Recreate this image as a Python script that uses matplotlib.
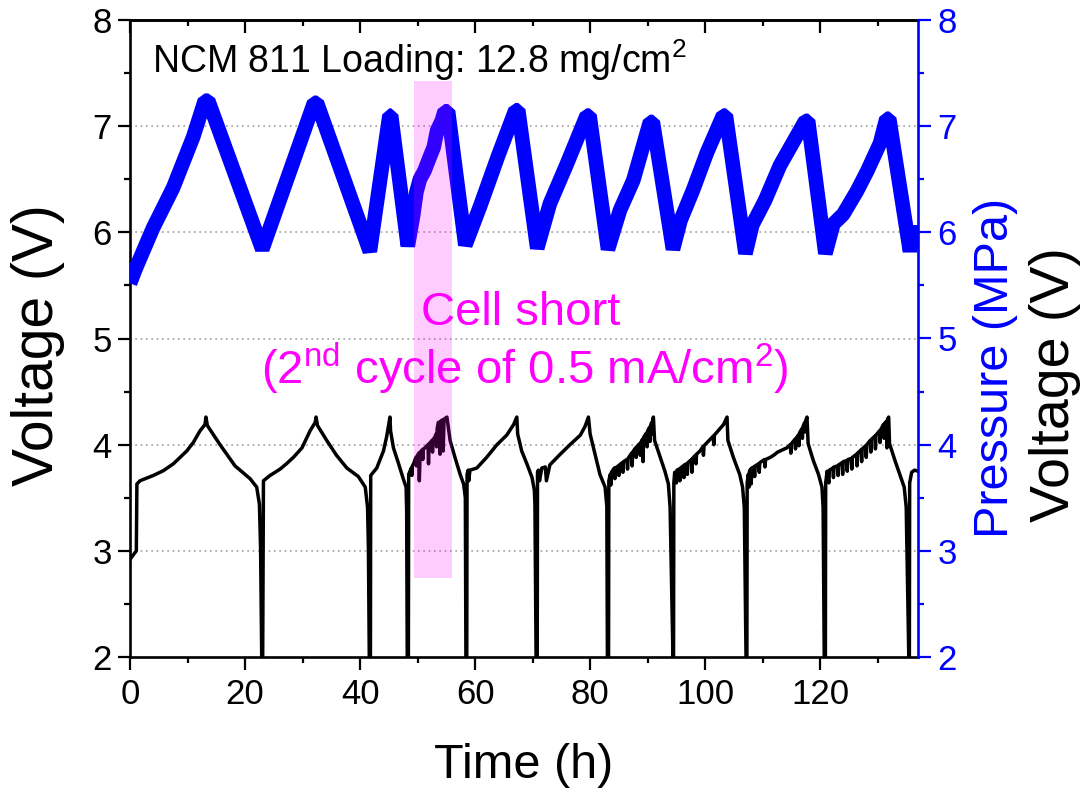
import numpy as np
import matplotlib
matplotlib.use("Agg")
import matplotlib.pyplot as plt
from matplotlib.patches import Rectangle
from matplotlib.ticker import MultipleLocator

plt.rcParams['font.family'] = ['Liberation Sans', 'DejaVu Sans']
plt.rcParams['mathtext.fontset'] = 'custom'
plt.rcParams['mathtext.rm'] = 'Liberation Sans'
plt.rcParams['mathtext.it'] = 'Liberation Sans:italic'
plt.rcParams['mathtext.bf'] = 'Liberation Sans:bold'
plt.rcParams['mathtext.default'] = 'regular'

# ---- stack pressure (MPa) vs time (h) ----
pressure_time = [0, 1.0, 4.0, 7.5, 11.0, 13.0, 13.6, 23.0, 32.0, 32.5, 41.7, 45.1, 45.4,
                 48.3, 49.2, 49.8, 50.4, 51.2, 52.2, 52.8, 53.4, 54.2, 54.7, 55.3,
                 58.3, 60.9, 64.0, 67.0, 67.5, 70.8, 73.0, 76.0, 79.4, 79.9,
                 83.1, 85.2, 87.5, 90.4, 90.9, 94.4, 95.7, 97.9, 100.3, 103.1, 103.6,
                 107.0, 108.2, 110.4, 113.0, 117.4, 117.9, 120.9, 122.3, 124.0, 126.4,
                 128.2, 130.4, 131.5, 132.0, 135.6, 136.1, 137.0]
pressure_mpa = [5.52, 5.66, 6.04, 6.42, 6.90, 7.24, 7.24, 5.84, 7.22, 7.22, 5.82, 7.10, 7.10,
                5.87, 6.15, 6.38, 6.50, 6.58, 6.72, 6.80, 6.96, 7.05, 7.14, 7.14,
                5.88, 6.25, 6.72, 7.15, 7.15, 5.85, 6.27, 6.65, 7.10, 7.10,
                5.84, 6.21, 6.49, 7.04, 7.04, 5.84, 6.11, 6.40, 6.75, 7.10, 7.10,
                5.80, 6.07, 6.30, 6.63, 7.05, 7.05, 5.80, 6.08, 6.17, 6.39,
                6.58, 6.84, 7.07, 7.07, 5.82, 6.00, 6.00]

# ---- cell voltage (time h, voltage V), one list per charge/discharge cycle ----
cycle1 = [(0, 2.92), (1.1, 3.0), (1.2, 3.63), (1.74, 3.66), (4.06, 3.71), (5.8, 3.755),
          (7.54, 3.82), (8.7, 3.88), (9.86, 3.94), (11.0, 4.02), (12.17, 4.13),
          (13.04, 4.19), (13.2, 4.26), (13.45, 4.18), (15.65, 4.0), (18.26, 3.80),
          (20.87, 3.68), (22.03, 3.60), (22.5, 3.44), (22.7, 3.03), (22.9, 2.0)]
cycle2 = [(23.07, 2.0), (23.2, 3.66), (24.35, 3.71), (26.1, 3.77), (27.2, 3.82),
          (28.4, 3.88), (29.9, 3.97), (31.3, 4.13), (32.2, 4.21), (32.35, 4.26),
          (32.6, 4.18), (34.2, 4.04), (35.9, 3.90), (37.7, 3.78), (39.7, 3.70),
          (40.9, 3.60), (41.3, 3.41), (41.45, 3.03), (41.6, 2.0)]
cycle3 = [(41.8, 2.0), (41.85, 3.71), (42.9, 3.78), (44.06, 3.94), (44.6, 4.07),
          (45.2, 4.26), (45.3, 4.13), (45.8, 3.97), (46.7, 3.82), (47.5, 3.68),
          (48.0, 3.60), (48.1, 3.38), (48.2, 2.0)]
cycle4 = [(48.4, 2.0), (48.45, 3.72), (48.9, 3.78), (49.0, 3.71), (49.1, 3.80), (49.3, 3.82),
          (49.7, 3.88), (49.8, 3.80), (49.9, 3.89), (50.2, 3.92), (50.3, 3.66), (50.45, 3.93),
          (50.8, 3.95), (50.9, 3.86), (51.0, 3.96), (51.3, 3.97), (51.8, 4.00), (51.9, 3.82),
          (52.0, 4.01), (52.2, 4.02), (52.5, 4.04), (52.6, 3.93), (52.7, 4.05), (53.0, 4.07),
          (53.2, 4.10), (53.3, 3.98), (53.4, 4.15), (53.6, 4.21), (53.8, 4.21), (53.9, 3.91),
          (54.0, 4.22), (54.2, 4.23), (54.35, 4.23), (54.45, 3.94), (54.6, 4.24), (55.1, 4.26),
          (55.65, 4.04), (56.5, 3.88), (57.4, 3.72), (58.0, 3.63), (58.3, 3.50), (58.4, 2.0)]
cycle5 = [(58.55, 2.0), (58.6, 3.72), (58.8, 3.76), (58.9, 3.66), (59.1, 3.76), (60.3, 3.78),
          (62.0, 3.88), (63.8, 4.0), (65.5, 4.09), (66.7, 4.19), (67.25, 4.26), (67.4, 4.10),
          (68.1, 3.94), (69.0, 3.82), (69.9, 3.69), (70.3, 3.57), (70.4, 3.44), (70.6, 2.0)]
cycle6 = [(70.8, 2.0), (70.85, 3.74), (71.0, 3.76), (71.2, 3.66), (71.6, 3.78), (72.2, 3.79),
          (72.4, 3.66), (73.0, 3.81), (74.8, 3.91), (76.5, 4.0), (78.3, 4.09), (79.1, 4.17),
          (79.7, 4.26), (80.0, 4.10), (80.8, 3.92), (81.7, 3.72), (82.6, 3.60), (82.9, 3.42),
          (83.0, 2.0)]
cycle7 = [(83.2, 2.0), (83.25, 3.66), (83.5, 3.72), (83.6, 3.62), (83.7, 3.74), (84.2, 3.78),
          (84.3, 3.68), (84.4, 3.78), (84.9, 3.80), (85.0, 3.71), (85.1, 3.81), (85.6, 3.83),
          (85.7, 3.74), (85.8, 3.84), (86.4, 3.86), (86.5, 3.77), (86.6, 3.87), (87.2, 3.92),
          (87.3, 3.80), (87.4, 3.93), (87.9, 3.97), (88.0, 3.88), (88.1, 3.98), (88.6, 4.01),
          (88.7, 3.90), (88.8, 4.02), (89.1, 4.05), (89.2, 3.84), (89.3, 4.07), (89.8, 4.11),
          (89.9, 3.98), (90.0, 4.13), (90.3, 4.16), (90.4, 4.03), (90.5, 4.18), (90.7, 4.21),
          (90.8, 4.10), (90.9, 4.24), (91.0, 4.26), (91.2, 4.04), (92.2, 3.88), (93.0, 3.75),
          (93.6, 3.63), (93.9, 3.41), (94.4, 2.0)]
cycle8 = [(94.5, 2.0), (94.55, 3.64), (94.7, 3.74), (95.0, 3.64), (95.1, 3.76), (95.5, 3.77),
          (95.6, 3.66), (95.7, 3.78), (96.2, 3.80), (96.3, 3.69), (96.4, 3.81), (96.8, 3.82),
          (96.9, 3.72), (97.0, 3.83), (97.6, 3.86), (97.7, 3.74), (97.8, 3.87), (98.3, 3.90),
          (98.4, 3.82), (98.5, 3.91), (99.1, 3.94), (99.6, 3.98), (99.7, 3.90), (99.8, 3.99),
          (100.5, 4.03), (101.4, 4.08), (101.5, 4.00), (101.6, 4.09), (102.4, 4.14),
          (103.2, 4.19), (103.8, 4.26), (103.95, 4.04), (104.9, 3.88), (106.0, 3.72),
          (106.5, 3.60), (106.8, 3.41), (107.1, 2.0)]
cycle9 = [(107.25, 2.0), (107.3, 3.64), (107.5, 3.72), (107.6, 3.60), (107.7, 3.75),
          (107.9, 3.77), (108.0, 3.63), (108.1, 3.78), (108.5, 3.79), (108.6, 3.70),
          (108.7, 3.80), (109.3, 3.82), (109.4, 3.74), (109.5, 3.83), (110.3, 3.86),
          (110.4, 3.79), (110.5, 3.86), (111.3, 3.88), (111.9, 3.90), (112.6, 3.93),
          (113.4, 3.95), (114.2, 3.97), (114.8, 4.00), (114.9, 3.92), (115.0, 4.01),
          (115.6, 4.05), (115.7, 3.96), (115.8, 4.06), (116.2, 4.09), (116.3, 3.99),
          (116.4, 4.11), (116.8, 4.15), (116.9, 4.06), (117.0, 4.17), (117.3, 4.21),
          (117.4, 4.12), (117.5, 4.23), (117.7, 4.26), (117.9, 4.01), (118.8, 3.85),
          (119.7, 3.72), (120.3, 3.60), (120.5, 3.41), (120.7, 2.0)]
cycle10 = [(120.9, 2.0), (120.95, 3.64), (121.2, 3.75), (121.5, 3.64), (121.6, 3.76),
           (122.2, 3.78), (122.3, 3.69), (122.4, 3.79), (123.0, 3.80), (123.1, 3.71),
           (123.2, 3.81), (123.8, 3.83), (123.9, 3.72), (124.0, 3.84), (124.6, 3.85),
           (124.7, 3.75), (124.8, 3.86), (125.4, 3.87), (125.5, 3.77), (125.6, 3.88),
           (126.3, 3.91), (126.4, 3.80), (126.5, 3.92), (127.1, 3.95), (127.2, 3.84),
           (127.3, 3.96), (127.9, 3.99), (128.0, 3.88), (128.1, 4.00), (128.7, 4.04),
           (128.8, 3.93), (128.9, 4.05), (129.5, 4.08), (129.6, 3.96), (129.7, 4.09),
           (130.3, 4.13), (130.4, 4.02), (130.5, 4.14), (131.0, 4.19), (131.1, 4.06),
           (131.2, 4.20), (131.5, 4.22), (131.6, 3.97), (131.7, 4.24), (131.9, 4.26),
           (132.05, 4.01), (133.0, 3.85), (133.9, 3.71), (134.6, 3.60), (134.95, 3.41),
           (135.4, 2.0)]
cycle11 = [(135.5, 2.0), (135.55, 3.64), (135.9, 3.74), (136.4, 3.76), (137.0, 3.75)]

voltage_trace = np.array(cycle1 + cycle2 + cycle3 + cycle4 + cycle5 + cycle6 + cycle7
                         + cycle8 + cycle9 + cycle10 + cycle11)
voltage_time = voltage_trace[:, 0]
voltage_v = voltage_trace[:, 1]

# highlighted short-circuit window (time span, voltage span)
short_t = (49.4, 56.0)
short_v = (2.745, 7.43)

x_ticks = [0, 20, 40, 60, 80, 100, 120]
y_ticks = [2, 3, 4, 5, 6, 7, 8]

BLUE = '#0000ff'
MAGENTA = '#ff00ff'

W, H = 1082, 792
fig = plt.figure(figsize=(W / 100, H / 100), dpi=100)
ax = fig.add_axes([130 / W, 1 - 657 / H, (918 - 130) / W, (657 - 20) / H])
ax2 = ax.twinx()

ax.set_xlim(0, 137)
ax.set_ylim(2, 8)
ax2.set_ylim(2, 8)

# voltage trace
ax.plot(voltage_time, voltage_v, color='black', lw=2.5, zorder=3,
        solid_joinstyle='round')

# horizontal dotted grid
for yv in y_ticks[1:-1]:
    ax.axhline(yv, color='#a0a0a0', lw=1.2, ls=(0, (1, 2.2)), zorder=1)

# pressure trace
ax2.plot(pressure_time, pressure_mpa, color=BLUE, lw=10.5, solid_joinstyle='bevel',
         solid_capstyle='butt', zorder=3)

# translucent marker over the short-circuit cycle
ax2.add_patch(Rectangle((short_t[0], short_v[0]), short_t[1] - short_t[0],
                        short_v[1] - short_v[0], facecolor=MAGENTA, alpha=0.2,
                        edgecolor='none', zorder=5))

# axes styling
spine_w = 1.9
for s in ['left', 'bottom', 'top']:
    ax.spines[s].set_linewidth(spine_w)
ax.spines['right'].set_visible(False)
for s in ['left', 'bottom', 'top']:
    ax2.spines[s].set_visible(False)
ax2.spines['right'].set_color(BLUE)
ax2.spines['right'].set_linewidth(spine_w)

ax.set_xticks(x_ticks)
ax.xaxis.set_minor_locator(MultipleLocator(10))
ax.set_yticks(y_ticks)
ax.yaxis.set_minor_locator(MultipleLocator(0.5))
ax2.set_yticks(y_ticks)
ax2.yaxis.set_minor_locator(MultipleLocator(0.5))

ax.tick_params(axis='both', which='major', direction='out', length=9, width=1.6,
               labelsize=25, pad=4)
ax.tick_params(axis='both', which='minor', direction='out', length=4.5, width=1.6)
ax.tick_params(axis='x', which='major', pad=6)
ax2.tick_params(axis='y', which='major', direction='out', length=9, width=1.6,
                labelsize=25, colors=BLUE, pad=5)
ax2.tick_params(axis='y', which='minor', direction='out', length=4.5, width=1.6,
                colors=BLUE)

# inward ticks along the top edge
top = ax.secondary_xaxis('top')
top.set_xticks(x_ticks)
top.xaxis.set_minor_locator(MultipleLocator(10))
top.tick_params(axis='x', which='major', direction='in', length=9, width=1.6,
                labeltop=False)
top.tick_params(axis='x', which='minor', direction='in', length=4.5, width=1.6)
top.spines['top'].set_linewidth(spine_w)

# texts
ax2.text(3.8, 7.5, 'NCM 811 Loading: 12.8 mg/cm$^{2}$', fontsize=27, color='black',
         ha='left', va='baseline', zorder=6)
ax2.text(68.0, 5.24, 'Cell short', fontsize=34, color=MAGENTA, ha='center',
         va='center', zorder=6)
ax2.text(68.7, 4.72, '(2$^{nd}$ cycle of 0.5 mA/cm$^{2}$)', fontsize=34, color=MAGENTA,
         ha='center', va='center', zorder=6)

fig.text(38 / W, 1 - 345 / H, 'Voltage (V)', fontsize=41, rotation=90,
         ha='center', va='center')
fig.text(524 / W, 1 - 765 / H, 'Time (h)', fontsize=35, ha='center', va='center')
fig.text(995 / W, 1 - 368 / H, 'Pressure (MPa)', fontsize=35, rotation=90,
         color=BLUE, ha='center', va='center')
fig.text(1055 / W, 1 - 385 / H, 'Voltage (V)', fontsize=40, rotation=90,
         ha='center', va='center')

fig.savefig('out.png', dpi=100)
